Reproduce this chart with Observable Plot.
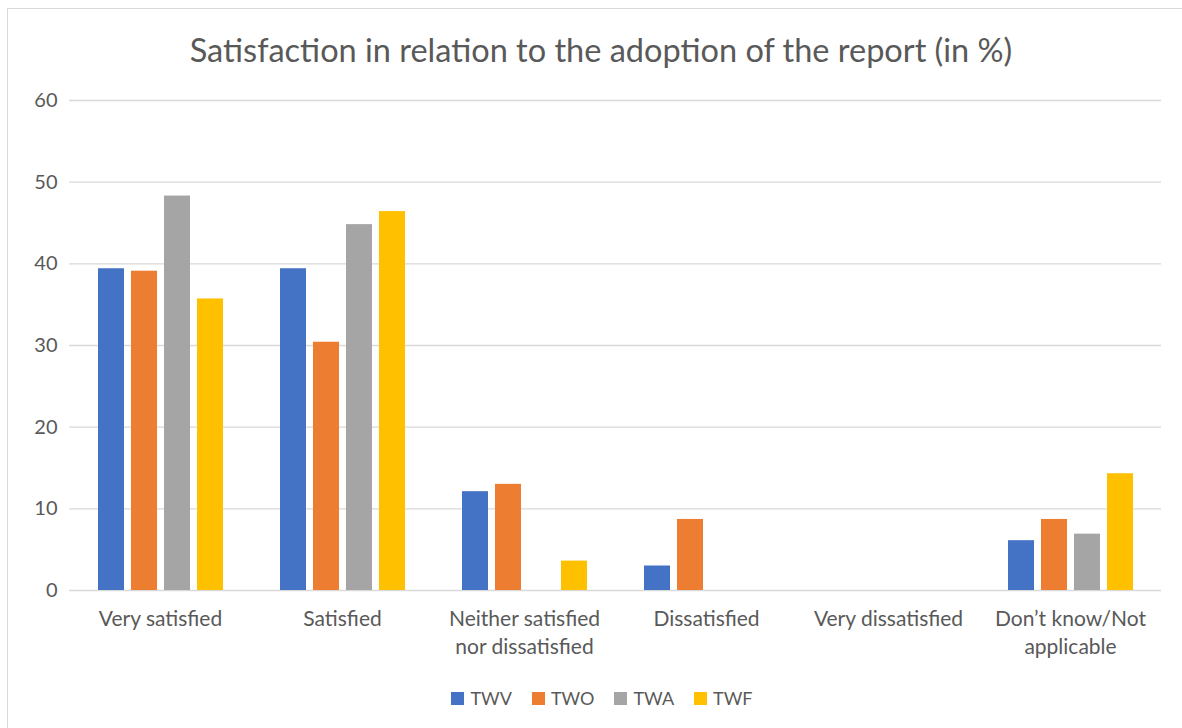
<!DOCTYPE html>
<html>
<head>
<meta charset="utf-8">
<script src="https://cdn.jsdelivr.net/npm/d3@7"></script>
<script src="https://cdn.jsdelivr.net/npm/@observablehq/plot@0.6"></script>
<style>
  html, body { margin: 0; padding: 0; background: #fff; }
  #wrap { position: relative; width: 1182px; height: 728px; overflow: hidden; font-family: Lato, "Open Sans", sans-serif; color: #595959; }
  #border { position: absolute; left: 7px; top: 8px; width: 1300px; height: 900px; border: 1.5px solid #d9d9d9; box-sizing: border-box; }
  #title { position: relative; height: 80px; line-height: 100px; text-align: center; font-size: 32.5px; color: #595959; padding-left: 20px; }
  #chart { position: relative; height: 580px; }
  #legend { position: relative; display: flex; justify-content: center; gap: 20px; font-size: 18px; margin-top: 27px; padding-left: 22px; }
  .item { display: flex; align-items: center; gap: 6px; }
  .sw { width: 13px; height: 13px; display: inline-block; }
</style>
</head>
<body>
<div id="wrap">
  <div id="border"></div>
  <div id="title">Satisfaction in relation to the adoption of the report (in %)</div>
  <div id="chart"></div>
  <div id="legend"></div>
</div>
<script>
const categories = ["Very satisfied", "Satisfied", "Neither satisfied\nnor dissatisfied", "Dissatisfied", "Very dissatisfied", "Don’t know/Not\napplicable"];
const series = ["TWV", "TWO", "TWA", "TWF"];
const colors = ["#4472c4", "#ed7d31", "#a5a5a5", "#ffc000"];
const TWV = [39.4, 39.4, 12.1, 3.0, 0, 6.1];
const TWO = [39.1, 30.4, 13.0, 8.7, 0, 8.7];
const TWA = [48.3, 44.8, 0, 0, 0, 6.9];
const TWF = [35.7, 46.4, 3.6, 0, 0, 14.3];
const yTicks = [0, 10, 20, 30, 40, 50, 60];

const valuesBySeries = {TWV, TWO, TWA, TWF};
const data = [];
categories.forEach((c, i) => {
  series.forEach(s => data.push({category: c, series: s, value: valuesBySeries[s][i]}));
});

const chart = Plot.plot({
  width: 1182,
  height: 580,
  marginTop: 20,
  marginBottom: 70,
  marginLeft: 67,
  marginRight: 19,
  style: {fontFamily: "Lato, 'Open Sans', sans-serif", fontSize: "20px", color: "#595959", background: "transparent", overflow: "visible"},
  fx: {domain: categories, padding: 0, label: null},
  x: {domain: series, paddingInner: 0.22, paddingOuter: 0.85, axis: null},
  y: {domain: [0, 60], label: null},
  color: {domain: series, range: colors},
  marks: [
    Plot.gridY(yTicks, {stroke: "#d9d9d9", strokeOpacity: 1, strokeWidth: 1.3}),
    Plot.axisY(yTicks, {tickSize: 0, tickPadding: 12, fontSize: 20, fill: "#595959", label: null}),
    Plot.axisFx({anchor: "bottom", tickSize: 0, tickPadding: 16, fontSize: 21, lineHeight: 1.33, fill: "#595959", label: null}),
    Plot.barY(data, {fx: "category", x: "series", y: "value", fill: "series"})
  ]
});
document.getElementById("chart").appendChild(chart);

const legend = document.getElementById("legend");
series.forEach((s, i) => {
  const item = document.createElement("div");
  item.className = "item";
  const sw = document.createElement("span");
  sw.className = "sw";
  sw.style.background = colors[i];
  const t = document.createElement("span");
  t.textContent = s;
  item.appendChild(sw);
  item.appendChild(t);
  legend.appendChild(item);
});
</script>
</body>
</html>
